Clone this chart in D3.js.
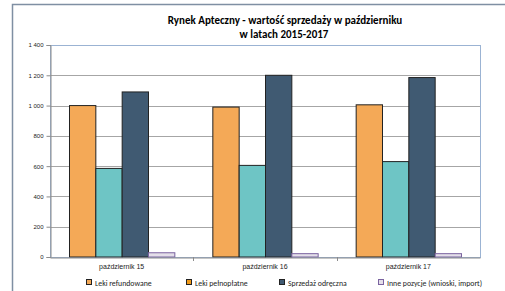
<!DOCTYPE html>
<html>
<head>
<meta charset="utf-8">
<script src="https://cdn.jsdelivr.net/npm/d3@7"></script>
<style>
  body { margin: 0; background: #fff; }
  svg { font-family: Calibri, Carlito, "Liberation Sans", Arial, sans-serif; }
</style>
</head>
<body>
<div id="chart-container"></div>
<script>
// data
const categories = ["październik 15", "październik 16", "październik 17"];
const seriesNames = ["Leki refundowane", "Leki pełnopłatne", "Sprzedaż odręczna", "Inne pozycje (wnioski, import)"];
const refundowane = [1000, 990, 1005];
const pelnoplatne = [585, 605, 630];
const odreczna = [1090, 1200, 1185];
const inne = [28, 22, 22];
const yTicks = [0, 200, 400, 600, 800, 1000, 1200, 1400];

const barColors = ["#f4a957", "#6ec5c5", "#405a72", "#e4dfe9"];
const legendColors = ["#f4a957", "#f29b1a", "#405a72", "#e4dfe9"];
const strokeColors = ["#222", "#222", "#222", "#7a63a0"];

function createGroupedBarChart(width, height) {
    const margin = { top: 45, right: 25, bottom: 34, left: 50 };
    const chartWidth = width - margin.left - margin.right;
    const chartHeight = height - margin.top - margin.bottom;

    const root = d3.select("#chart-container")
        .append("svg")
        .attr("width", width)
        .attr("height", height);

    // outer chart frame
    root.append("rect")
        .attr("x", 12.5).attr("y", 4.5)
        .attr("width", width + 20).attr("height", height + 20)
        .attr("fill", "none")
        .attr("stroke", "#7f8fa3")
        .attr("stroke-width", 1.5);

    // title
    root.append("text")
        .attr("x", 285).attr("y", 24)
        .attr("text-anchor", "middle")
        .attr("font-size", 11).attr("font-weight", "bold")
        .text("Rynek Apteczny - wartość sprzedaży w październiku");
    root.append("text")
        .attr("x", 284).attr("y", 38)
        .attr("text-anchor", "middle")
        .attr("font-size", 11).attr("font-weight", "bold")
        .text("w latach 2015-2017");

    const svg = root.append("g")
        .attr("transform", `translate(${margin.left},${margin.top})`);

    const series = [refundowane, pelnoplatne, odreczna, inne];
    const data = categories.map((c, i) => ({
        cat: c,
        values: series.map((s, k) => ({ k: k, v: s[i] }))
    }));

    const x0 = d3.scaleBand()
        .domain(categories)
        .range([0, chartWidth])
        .paddingInner(0)
        .paddingOuter(0);

    const x1 = d3.scaleBand()
        .domain(d3.range(seriesNames.length))
        .range([19, x0.bandwidth() - 19]);

    const yScale = d3.scaleLinear()
        .domain([0, 1400])
        .range([chartHeight, 0]);

    // plot area border
    svg.append("rect")
        .attr("x", 0.5).attr("y", 0.5)
        .attr("width", chartWidth).attr("height", chartHeight)
        .attr("fill", "none")
        .attr("stroke", "#9bb3d3");

    // gridlines
    svg.append("g")
        .selectAll("line")
        .data(yTicks.filter(t => t > 0 && t < 1400))
        .enter()
        .append("line")
        .attr("x1", 0).attr("x2", chartWidth)
        .attr("y1", d => Math.round(yScale(d)) + 0.5)
        .attr("y2", d => Math.round(yScale(d)) + 0.5)
        .attr("stroke", "#a6a6a6");

    // bars
    const groups = svg.selectAll(".group")
        .data(data)
        .enter()
        .append("g")
        .attr("transform", d => `translate(${x0(d.cat)},0)`);

    groups.selectAll("rect")
        .data(d => d.values)
        .enter()
        .append("rect")
        .attr("x", d => x1(d.k) + 0.5)
        .attr("y", d => yScale(d.v))
        .attr("width", x1.bandwidth())
        .attr("height", d => chartHeight - yScale(d.v))
        .attr("fill", d => barColors[d.k])
        .attr("stroke", d => strokeColors[d.k])
        .attr("stroke-width", 1);

    // Y axis
    const yAxis = svg.append("g")
        .attr("transform", "translate(0.5,0)")
        .call(d3.axisLeft(yScale)
            .tickValues(yTicks)
            .tickSize(4)
            .tickFormat(d => d3.format(",")(d).replace(",", " ")));
    yAxis.select(".domain").attr("stroke", "#8c8c8c");
    yAxis.selectAll(".tick line").attr("stroke", "#8c8c8c");
    yAxis.selectAll("text").attr("font-size", 6).attr("fill", "#222");

    // X axis
    const xAxis = svg.append("g")
        .attr("transform", `translate(0,${chartHeight + 0.5})`)
        .call(d3.axisBottom(x0).tickSize(0).tickSizeOuter(0));
    xAxis.select(".domain").attr("stroke", "#8c8c8c");
    xAxis.selectAll("text").attr("font-size", 7).attr("fill", "#222").attr("dy", "1.2em");

    // category separators
    svg.append("g")
        .selectAll("line")
        .data(categories.slice(1))
        .enter()
        .append("line")
        .attr("x1", d => Math.round(x0(d)) + 0.5)
        .attr("x2", d => Math.round(x0(d)) + 0.5)
        .attr("y1", chartHeight)
        .attr("y2", chartHeight + 4)
        .attr("stroke", "#8c8c8c");

    // legend
    const legendX = [86, 186, 279, 378];
    const legend = root.append("g")
        .selectAll("g")
        .data(seriesNames)
        .enter()
        .append("g")
        .attr("transform", (d, i) => `translate(${legendX[i]},279)`);
    legend.append("rect")
        .attr("x", 0.5).attr("y", 0.5)
        .attr("width", 5).attr("height", 5)
        .attr("fill", (d, i) => legendColors[i])
        .attr("stroke", (d, i) => strokeColors[i]);
    legend.append("text")
        .attr("x", 9).attr("y", 6.5)
        .attr("font-size", 7.8)
        .attr("fill", "#222")
        .text(d => d);
}

createGroupedBarChart(505, 291);
</script>
</body>
</html>
